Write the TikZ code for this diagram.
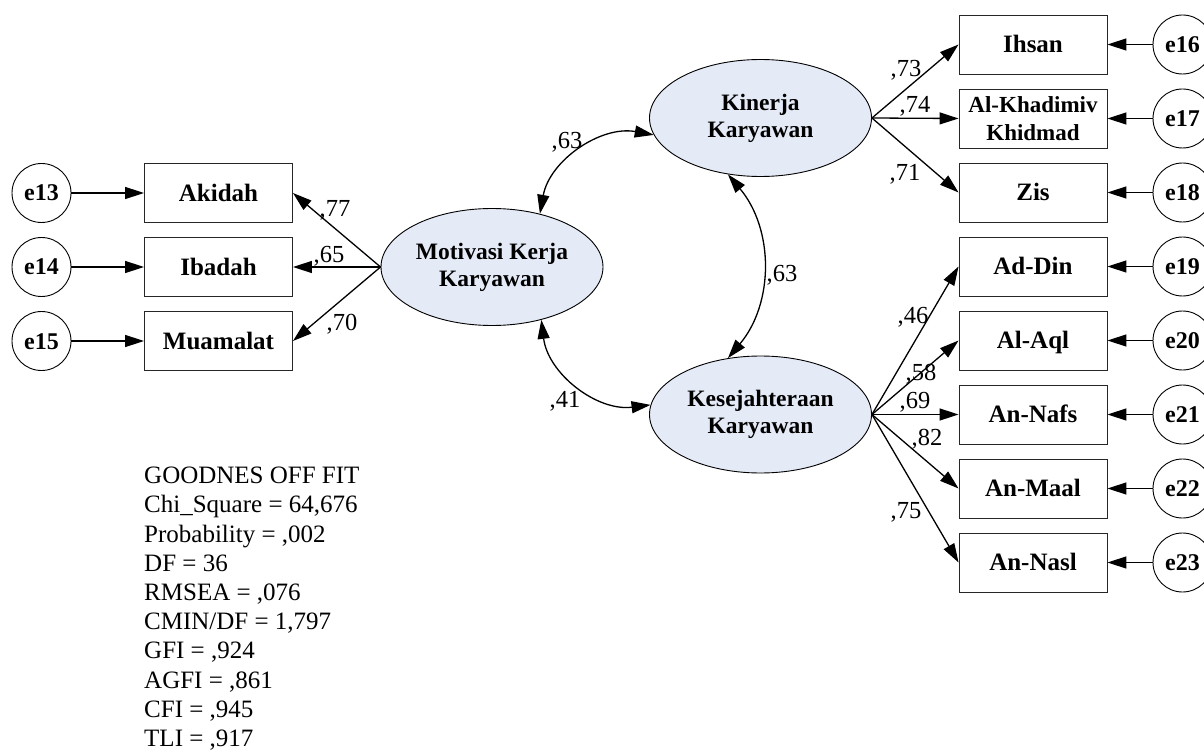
\documentclass[tikz,border=0pt]{standalone}
\usepackage{fontspec}
\setmainfont{Liberation Serif}
\usetikzlibrary{shapes.geometric,arrows.meta}
\definecolor{latentfill}{RGB}{228,234,246}
\begin{document}
\begin{tikzpicture}[x=1pt,y=1pt,
  tip/.style={-{Triangle[length=19pt,width=12pt]}},
  bitip/.style={{Triangle[length=19pt,width=12pt]}-{Triangle[length=19pt,width=12pt]}},
  link/.style={line width=1.3pt},
  errc/.style={circle,draw,line width=0.9pt,minimum size=59pt,inner sep=0pt,
    font=\fontsize{24}{28}\selectfont\bfseries,text height=16pt,text depth=0pt},
  obs/.style={rectangle,draw=black!85,line width=0.9pt,minimum width=148pt,minimum height=59pt,
    inner sep=0pt,font=\fontsize{25}{29}\selectfont\bfseries,text height=16.5pt,text depth=0pt},
  obstwo/.style={rectangle,draw=black!85,line width=0.9pt,minimum width=148pt,minimum height=59pt,
    inner sep=0pt,align=center,font=\fontsize{23}{27.5}\selectfont\bfseries},
  lat/.style={ellipse,draw,fill=latentfill,line width=0.9pt,minimum width=222pt,minimum height=117pt,
    inner sep=0pt,align=center,font=\fontsize{23.5}{27}\selectfont\bfseries},
  coef/.style={font=\fontsize{24.5}{28}\selectfont,inner sep=0pt,anchor=base}
]
\useasboundingbox (0,0) rectangle (1204,-751);

% latent variables
\node[lat] (mot) at (492,-267) {Motivasi Kerja\\Karyawan};
\node[lat] (kin) at (760.5,-118) {Kinerja\\Karyawan};
\node[lat] (kes) at (760.5,-414.5) {Kesejahteraan\\Karyawan};

% indicators of Motivasi Kerja Karyawan
\node[obs] (akidah) at (218.5,-193) {Akidah};
\node[obs] (ibadah) at (218.5,-267) {Ibadah};
\node[obs] (muamalat) at (218.5,-341) {Muamalat};
\node[errc] (e13) at (41.5,-193) {e13};
\node[errc] (e14) at (41.5,-267) {e14};
\node[errc] (e15) at (41.5,-341) {e15};

% indicators of Kinerja Karyawan
\node[obs] (ihsan) at (1033,-44.5) {Ihsan};
\node[obstwo] (khad) at (1033,-118.5) {Al-Khadimiv\\Khidmad};
\node[obs] (zis) at (1033,-192.5) {Zis};

% indicators of Kesejahteraan Karyawan
\node[obs] (addin) at (1033,-266.5) {Ad-Din};
\node[obs] (alaql) at (1033,-340.5) {Al-Aql};
\node[obs] (annafs) at (1033,-414.5) {An-Nafs};
\node[obs] (anmaal) at (1033,-488.5) {An-Maal};
\node[obs] (annasl) at (1033,-562.5) {An-Nasl};

\node[errc] (e16) at (1182.5,-44.5) {e16};
\node[errc] (e17) at (1182.5,-118.5) {e17};
\node[errc] (e18) at (1182.5,-192.5) {e18};
\node[errc] (e19) at (1182.5,-266.5) {e19};
\node[errc] (e20) at (1182.5,-340.5) {e20};
\node[errc] (e21) at (1182.5,-414.5) {e21};
\node[errc] (e22) at (1182.5,-488.5) {e22};
\node[errc] (e23) at (1182.5,-562.5) {e23};

% error terms
\foreach \e/\o in {e13/akidah,e14/ibadah,e15/muamalat,e16/ihsan,e17/khad,e18/zis,
                   e19/addin,e20/alaql,e21/annafs,e22/anmaal,e23/annasl}
  \draw[link,tip] (\e) -- (\o);

% loadings
\foreach \o in {akidah,ibadah,muamalat}
  \draw[link,tip] (mot.west) -- (\o.east);
\foreach \o in {ihsan,khad,zis}
  \draw[link,tip] (kin.east) -- (\o.west);
\foreach \o in {addin,alaql,annafs,anmaal,annasl}
  \draw[link,tip] (kes.east) -- (\o.west);

% correlations
\draw[link,bitip] (mot.48) to[bend left=45] (kin.189);
\draw[link,bitip] (kin.240) to[bend left=40] (kes.120);
\draw[link,bitip] (mot.313) to[bend right=45] (kes.175);

% coefficients
\node[coef] (r1) at (567,-149) {,63};
\node[coef] (r2) at (782,-281) {,63};
\node[coef] (r3) at (565,-407) {,41};
\node[coef] (l73) at (906,-77) {,73};
\node[coef] (l74) at (915,-113) {,74};
\node[coef] (l71) at (905,-181) {,71};
\node[coef] (l46) at (913,-323) {,46};
\node[coef] (l58) at (921,-380) {,58};
\node[coef] (l69) at (915,-408) {,69};
\node[coef] (l82) at (927,-445) {,82};
\node[coef] (l75) at (906,-518) {,75};
\node[coef] (l77) at (335,-217) {,77};
\node[coef] (l65) at (329,-263) {,65};
\node[coef] (l70) at (342,-330) {,70};

% fit indices
\node[anchor=north west,align=left,inner sep=0pt,font=\fontsize{25}{29.2}\selectfont] (fit) at (144,-467)
  {GOODNES OFF FIT\\Chi\_Square = 64,676\\Probability = ,002\\DF = 36\\RMSEA = ,076\\CMIN/DF = 1,797\\GFI = ,924\\AGFI = ,861\\CFI = ,945\\TLI = ,917};
\end{tikzpicture}
\end{document}
